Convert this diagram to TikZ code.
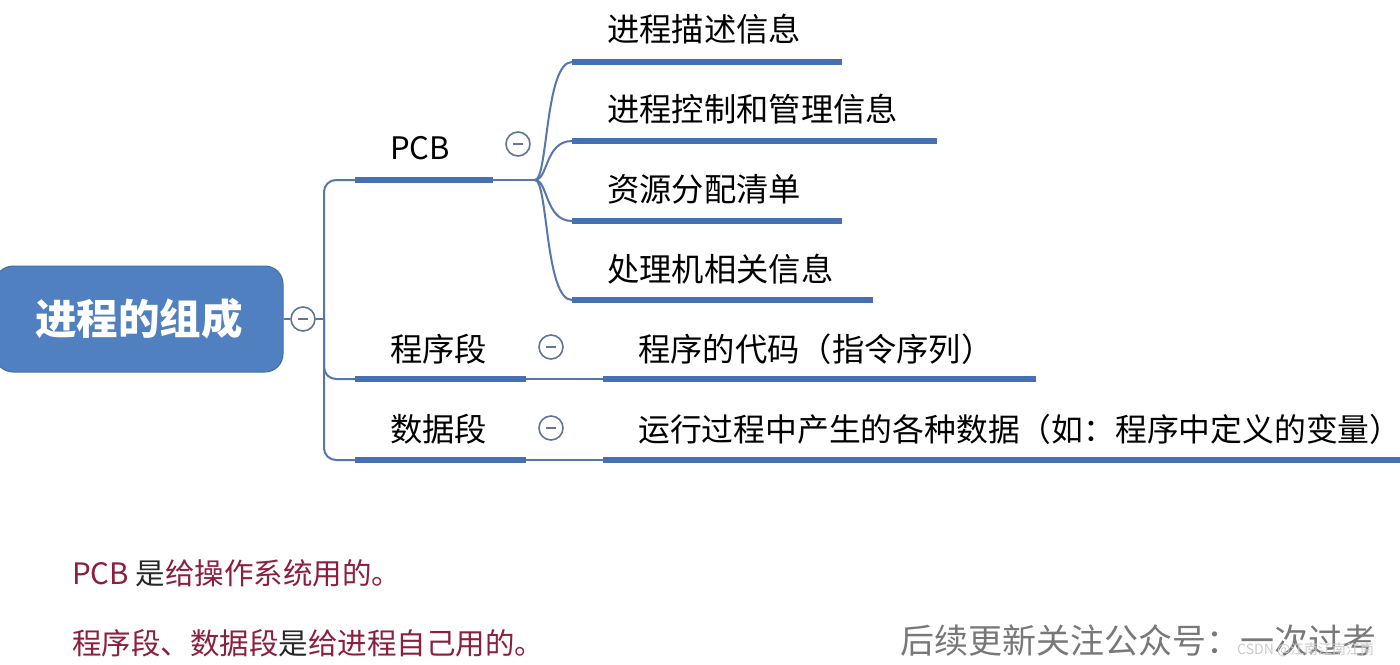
\documentclass[tikz,border=0pt]{standalone}
\usepackage{fontspec}
\setmainfont{Noto Sans CJK SC}
\definecolor{barblue}{RGB}{70,112,180}
\definecolor{linkblue}{RGB}{88,118,172}
\definecolor{rootfill}{RGB}{80,128,192}
\definecolor{togcol}{RGB}{100,115,150}
\definecolor{notered}{RGB}{140,30,62}
\definecolor{notedark}{RGB}{40,40,40}
\definecolor{wmgray}{RGB}{120,120,120}
\begin{document}
\begin{tikzpicture}[x=1pt,y=-1pt,
  bar/.style={line width=6pt, draw=barblue},
  link/.style={line width=2pt, draw=linkblue},
  rootbox/.style={rectangle, rounded corners=18pt, fill=rootfill, draw=rootfill!85!black, line width=1pt,
     minimum width=288pt, minimum height=106pt, text=white, font=\fontsize{41.5}{46}\selectfont\bfseries},
  tog/.style={circle, draw=togcol, line width=1.6pt, fill=white, minimum size=24pt, inner sep=0pt,
     path picture={\draw[togcol, line width=1.6pt] ([xshift=-5pt]path picture bounding box.center) -- ([xshift=5pt]path picture bounding box.center);}},
  lbl/.style={anchor=base west, inner sep=0pt, text=black, font=\fontsize{32.3}{36}\selectfont},
  longlbl/.style={lbl, font=\fontsize{31.8}{36}\selectfont},
  pcblbl/.style={anchor=base west, inner sep=0pt, text=black, font=\fontsize{31}{34}\selectfont},
  note/.style={anchor=base west, inner sep=0pt, text=notered, font=\fontsize{29.5}{32}\selectfont},
  wm/.style={anchor=base west, inner sep=0pt, text=wmgray, font=\fontsize{34}{38}\selectfont},
  csdn/.style={anchor=base west, inner sep=0pt, text=white!60!gray, font=\fontsize{14}{16}\selectfont}
]
\useasboundingbox (0,0) rectangle (1400,664);
\clip (0,0) rectangle (1400,664);
\fill[white] (0,0) rectangle (1400,664);

% root
\node[rootbox] (root) at (139,319) {进程的组成};
\node[tog] (t0) at (303,319) {};
\draw[link] (root.east) -- (t0.west);
\coordinate (trunk) at (324,319);

% first level bars
\coordinate (pcbL) at (355,180); \coordinate (pcbR) at (493,180);
\coordinate (prgL) at (355,379); \coordinate (prgR) at (526,379);
\coordinate (datL) at (355,460); \coordinate (datR) at (526,460);

\draw[link] (t0.east) -- (trunk);
\draw[link, rounded corners=12pt] (trunk) |- (pcbL);
\draw[link, rounded corners=12pt] (trunk) |- (prgL);
\draw[link, rounded corners=12pt] (trunk) |- (datL);

\draw[bar] (pcbL) -- (pcbR);
\draw[bar] (prgL) -- (prgR);
\draw[bar] (datL) -- (datR);

\node[pcblbl] (pcb) at (390,159) {PCB};
\node[lbl] (prg) at (390,361) {程序段};
\node[lbl] (dat) at (390,441) {数据段};

\node[tog] (t1) at (518,144) {};
\node[tog] (t2) at (551,347) {};
\node[tog] (t3) at (551,428) {};

% PCB children
\coordinate (hub) at (535,180);
\draw[link] (pcbR) -- (hub);
\coordinate (c1L) at (572,62);  \coordinate (c1R) at (842,62);
\coordinate (c2L) at (572,141); \coordinate (c2R) at (937,141);
\coordinate (c3L) at (572,221); \coordinate (c3R) at (842,221);
\coordinate (c4L) at (572,300); \coordinate (c4R) at (873,300);
\draw[link] (hub) .. controls (548,180) and (545,62) .. (c1L);
\draw[link] (hub) .. controls (548,180) and (545,141) .. (c2L);
\draw[link] (hub) .. controls (548,180) and (545,221) .. (c3L);
\draw[link] (hub) .. controls (548,180) and (545,300) .. (c4L);
\draw[bar] (c1L) -- (c1R);
\draw[bar] (c2L) -- (c2R);
\draw[bar] (c3L) -- (c3R);
\draw[bar] (c4L) -- (c4R);
\node[lbl] (n1) at (607,41) {进程描述信息};
\node[lbl] (n2) at (607,121) {进程控制和管理信息};
\node[lbl] (n3) at (607,201) {资源分配清单};
\node[lbl] (n4) at (607,281) {处理机相关信息};

% program / data children
\coordinate (p1L) at (603,379); \coordinate (p1R) at (1036,379);
\coordinate (d1L) at (603,460); \coordinate (d1R) at (1400,460);
\draw[link] (prgR) -- (p1L);
\draw[link] (datR) -- (d1L);
\draw[bar] (p1L) -- (p1R);
\draw[bar] (d1L) -- (d1R);
\node[lbl] (pc) at (638,361) {程序的代码（指令序列）};
\node[longlbl] (dc) at (638,441) {运行过程中产生的各种数据（如：程序中定义的变量）};

% notes
\node[note] (note1) at (72,584) {PCB \textcolor{notedark}{是}给操作系统用的。};
\node[note] (note2) at (72,654) {程序段、数据段\textcolor{notedark}{是}给进程自己用的。};

% watermark
\node[wm] (wm) at (900,653) {后续更新关注公众号：一次过考};
\node[csdn] (csdn) at (1237,654) {CSDN @江南江南江南};
\end{tikzpicture}
\end{document}
